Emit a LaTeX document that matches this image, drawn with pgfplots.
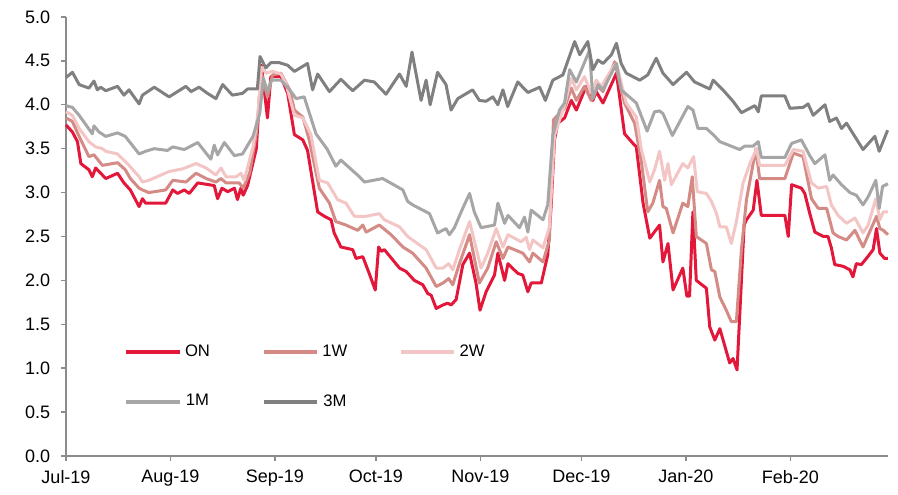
\documentclass[border=0pt]{standalone}
\usepackage{pgfplots}
\pgfplotsset{compat=1.18}
\usepackage{fontspec}
\setmainfont{Liberation Sans}
\definecolor{cON}{HTML}{E3173A}
\definecolor{cOneW}{HTML}{D48A85}
\definecolor{cTwoW}{HTML}{F4C5C5}
\definecolor{cOneM}{HTML}{A6A6A6}
\definecolor{cThreeM}{HTML}{808080}
\definecolor{axisgray}{HTML}{8C8C8C}
% days counted from 1 Jul 2019
\begin{document}
\begin{tikzpicture}
\begin{axis}[
    scale only axis,
    width=493.2pt, height=263.4pt,
    xmin=0, xmax=244, ymin=0, ymax=5,
    axis x line*=bottom, axis y line*=left,
    axis line style={draw=axisgray, line width=0.8pt, -},
    xtick={0,31,62,92,123,153,184,215},
    xticklabels={Jul-19,Aug-19,Sep-19,Oct-19,Nov-19,Dec-19,Jan-20,Feb-20},
    ytick={0,0.5,1,1.5,2,2.5,3,3.5,4,4.5,5},
    tick align=outside, major tick length=3pt,
    tick style={draw=axisgray, line width=0.8pt},
    ticklabel style={font=\fontsize{10.8}{13}\selectfont},
    yticklabel style={xshift=-3pt},
    xticklabel style={yshift=-2pt},
    clip=false,
    legend style={draw=none, fill=none, at={(0.0645,0.268)}, anchor=north west,
        font=\fontsize{10}{12}\selectfont, row sep=17pt,
        /tikz/every even column/.append style={column sep=29pt}},
    legend columns=3,
    legend image code/.code={\draw[#1,line width=2.4pt] (0pt,0pt) -- (32pt,0pt);},
    /pgf/number format/fixed, /pgf/number format/fixed zerofill,
    /pgf/number format/precision=1, /pgf/number format/assume math mode=true,
]
\addplot[cON, line width=1.8pt, line join=round] coordinates {
(0,3.77) (1.9,3.69) (3.4,3.58) (4.4,3.33) (6.8,3.26) (7.8,3.18) (8.8,3.28) (11.8,3.16)
(15.3,3.22) (17.2,3.11) (19.1,3.03) (21.7,2.84) (22.7,2.93) (23.6,2.88) (29.6,2.88)
(31.7,3.03) (33.1,2.99) (35.1,3.03) (36.6,2.99) (39.1,3.11) (44,3.08) (45,2.93)
(46.3,3.05) (48,3.01) (50,3.05) (50.9,2.92) (51.9,3.05) (52.6,2.97) (53.9,3.08)
(56.5,3.50) (58,4.45) (59.8,3.85) (60.8,4.32) (63.8,4.32) (65.8,4.13) (67.8,3.66)
(70.3,3.60) (71.7,3.48) (74.7,2.78) (76.7,2.73) (78.7,2.69) (79.6,2.54) (81.6,2.38)
(85.1,2.35) (86.1,2.25) (88.1,2.27) (90,2.08) (91.8,1.89) (92.8,2.38) (93.6,2.33)
(94.5,2.35) (99,2.14) (101,2.10) (103.4,2.00) (105.9,1.95) (107.4,1.85) (108.4,1.83)
(109.9,1.68) (111.9,1.72) (113.3,1.74) (114.3,1.72) (115.8,1.78) (117.8,2.18)
(119.8,2.31) (121.7,1.97) (122.9,1.66) (124.7,1.87) (127.2,2.06) (128.2,2.31)
(130.2,2.00) (131.2,2.19) (134.1,2.08) (135.6,2.06) (137.1,1.87) (138.1,1.97)
(141.1,1.97) (143,2.29) (144,2.84) (145,3.60) (146,3.79) (148,3.85) (150,4.05)
(151.5,3.94) (154.4,4.21) (156.4,4.05) (157.4,4.15) (159.4,4.02) (163.4,4.36)
(165.8,3.67) (168.3,3.56) (169.3,3.52) (171.3,2.88) (173.3,2.48) (176.2,2.63)
(177.2,2.21) (178.7,2.42) (180.2,1.89) (183.1,2.14) (184.3,1.82) (185.1,1.82)
(186.1,2.78) (187.1,2.00) (190.1,1.91) (191.1,1.47) (192.6,1.32) (194.1,1.45)
(197,1.06) (198,1.11) (199.2,0.98) (201.3,2.63) (202,2.69) (204,2.80) (205.1,3.14)
(206.4,2.74) (213.4,2.74) (214.4,2.50) (215.4,3.09) (218.3,3.05) (219.3,2.99)
(220.8,2.76) (222.3,2.55) (224.8,2.50) (226.2,2.50) (227.2,2.37) (228.2,2.18)
(230.7,2.16) (232.7,2.12) (233.6,2.04) (234.6,2.19) (236.1,2.18) (237.6,2.25)
(239.6,2.35) (240.6,2.59) (241.6,2.31) (243,2.25) (244,2.25)
};
\addlegendentry{ON}
\addplot[cOneW, line width=1.8pt, line join=round] coordinates {
(0,3.85) (1.9,3.81) (3.9,3.64) (6.8,3.41) (8.3,3.43) (10.8,3.31) (15.3,3.34) (17.6,3.26)
(19.1,3.16) (21.7,3.05) (22.7,3.03) (24.6,3.00) (29.6,3.03) (31.7,3.14) (35.6,3.12)
(38.6,3.22) (41.6,3.16) (44.5,3.12) (46,3.16) (47.5,3.11) (51.4,3.11) (52.6,3.05)
(54.5,3.22) (56.5,3.67) (58,4.36) (59.8,4.09) (61.3,4.34) (63.8,4.36) (66.4,4.17)
(67.8,3.94) (70.3,3.86) (72.2,3.60) (75.2,3.05) (78.2,2.88) (80.1,2.67) (83.1,2.63)
(86.6,2.57) (88.1,2.63) (89.1,2.55) (93,2.63) (96.5,2.52) (100,2.38) (102.9,2.31)
(106.9,2.14) (109.9,1.93) (111.9,1.97) (113.6,2.02) (114.8,1.95) (116.8,2.19)
(119.8,2.52) (122.7,1.97) (125.2,2.14) (127.7,2.44) (129.7,2.25) (131.2,2.38)
(135.6,2.31) (137.6,2.21) (138.6,2.31) (141.6,2.21) (143.5,2.46) (144.7,3.83)
(148,3.96) (150,4.19) (151.5,4.05) (153.9,4.21) (155.9,4.05) (157.9,4.21) (159.4,4.15)
(162.9,4.49) (165.8,4.02) (168.8,3.79) (170.8,3.35) (172.7,2.78) (174.2,2.88)
(176.2,3.14) (177.2,2.84) (178.2,2.82) (180.2,2.54) (183.1,2.88) (184.6,2.84)
(185.9,3.18) (187.1,2.50) (190.1,2.42) (191.6,2.12) (192.6,2.10) (194.1,1.81)
(196,1.66) (197.5,1.53) (199,1.53) (200.5,2.35) (202,2.92) (204.8,3.50) (205.9,3.16)
(213.4,3.16) (215.9,3.45) (218.8,3.41) (221.3,2.93) (223.3,2.82) (225.8,2.82)
(227.7,2.54) (229.2,2.50) (231.7,2.46) (234.2,2.57) (236.6,2.38) (240.6,2.73)
(241.6,2.59) (242.6,2.57) (244,2.52)
};
\addlegendentry{1W}
\addplot[cTwoW, line width=1.8pt, line join=round] coordinates {
(0,3.92) (1.9,3.88) (3.9,3.73) (6.8,3.58) (8.8,3.52) (10.8,3.50) (11.8,3.47) (15.3,3.44)
(18.7,3.31) (21.7,3.18) (22.7,3.12) (24.6,3.14) (30.6,3.24) (34.6,3.27) (38.6,3.33)
(41.6,3.28) (44.5,3.20) (46,3.28) (47.5,3.18) (50.5,3.18) (51.9,3.22) (52.9,3.14)
(55.5,3.52) (57,3.90) (58,4.43) (59.4,4.36) (61.3,4.38) (63.8,4.35) (65.3,4.24)
(67.8,3.88) (70.3,3.85) (72.7,3.66) (75.2,3.14) (77.7,3.11) (80.6,2.92) (83.1,2.88)
(85.6,2.73) (89.1,2.73) (93,2.76) (94.5,2.69) (99,2.61) (101.4,2.50) (106.9,2.35)
(109.9,2.14) (111.9,2.14) (113.6,2.19) (114.8,2.12) (116.8,2.35) (119.8,2.67)
(123.2,2.14) (125.2,2.31) (127.7,2.59) (129.7,2.38) (131.2,2.52) (135.1,2.44)
(136.6,2.49) (137.6,2.35) (138.6,2.46) (141.6,2.37) (143.5,2.61) (145,3.65) (148,4.00)
(150,4.30) (151.5,4.17) (153.9,4.32) (155.9,4.13) (157.4,4.28) (158.9,4.21)
(162.4,4.43) (163.4,4.47) (166.3,4.02) (169.3,3.86) (170.8,3.49) (173.3,3.12)
(174.7,3.26) (176.2,3.47) (177.7,3.14) (178.7,3.33) (179.7,3.09) (183.1,3.33)
(184.6,3.28) (186.3,3.41) (187.4,3.01) (190.1,2.99) (191.6,2.90) (193.1,2.76)
(194.1,2.61) (196,2.61) (197.5,2.42) (199,2.67) (201,3.11) (203,3.33) (205,3.50)
(205.9,3.31) (213.4,3.31) (215.9,3.49) (218.8,3.47) (221.3,3.11) (223.3,3.05)
(225.8,3.07) (227.2,2.86) (229.2,2.74) (231.7,2.65) (234.2,2.71) (236.6,2.54)
(238.1,2.63) (240.4,2.93) (241.6,2.69) (242.6,2.78) (244,2.78)
};
\addlegendentry{2W}
\addplot[cOneM, line width=1.8pt, line join=round] coordinates {
(0,3.99) (1.9,3.97) (3.9,3.88) (7.8,3.67) (8.3,3.76) (9.8,3.69) (11.8,3.64) (15.3,3.68)
(17.6,3.64) (21.7,3.44) (23.6,3.47) (26.2,3.50) (30.1,3.48) (31.7,3.52) (35.1,3.49)
(39.1,3.57) (43,3.38) (44,3.54) (45,3.43) (47,3.57) (50,3.42) (52.4,3.44) (55.5,3.64)
(57.5,3.90) (58.6,4.30) (59.8,4.15) (61,4.28) (63.8,4.28) (66.4,4.17) (68.3,4.07)
(70.7,4.09) (74.2,3.67) (77.6,3.49) (80.1,3.30) (81.6,3.37) (87.1,3.18) (88.6,3.12)
(94,3.16) (100,3.03) (101.4,2.90) (102.9,2.86) (107.9,2.76) (110.3,2.54) (112.8,2.59)
(113.8,2.52) (115.3,2.60) (117.3,2.78) (119.8,2.99) (121.2,2.78) (123.2,2.60)
(127.2,2.63) (128.2,2.88) (130.2,2.65) (131.2,2.74) (134.6,2.60) (136.1,2.72)
(137.1,2.55) (138.1,2.80) (141.6,2.69) (143,2.86) (144.5,3.65) (146.5,3.94) (148,4.02)
(149.5,4.40) (151.5,4.26) (155.4,4.62) (156.4,4.07) (157.9,4.23) (159.4,4.17)
(161.4,4.32) (163.4,4.47) (164.8,4.17) (169.3,4.02) (172.5,3.70) (174.7,3.92)
(176.2,3.93) (177.2,3.90) (180,3.65) (184.6,3.98) (186.1,3.94) (187.6,3.73)
(190.1,3.73) (192.1,3.66) (194.1,3.58) (200,3.49) (201.5,3.53) (204,3.53) (205.5,3.58)
(206.4,3.40) (213.4,3.40) (215.4,3.56) (218.3,3.60) (220.8,3.42) (222.3,3.33)
(225.3,3.43) (226.7,3.14) (227.7,3.20) (230.2,3.09) (232.7,3.00) (234.6,2.97)
(236.6,2.86) (238.1,2.95) (240.4,3.14) (241.4,2.82) (242.4,3.07) (244,3.10)
};
\addlegendentry{1M}
\addplot[cThreeM, line width=1.8pt, line join=round] coordinates {
(0,4.31) (1.9,4.37) (3.9,4.23) (6.8,4.19) (8.3,4.27) (9.3,4.17) (10.3,4.20) (11.8,4.16)
(15.3,4.21) (17.2,4.11) (18.7,4.17) (21.7,4.01) (22.7,4.11) (26.2,4.20) (30.6,4.09)
(35.6,4.21) (37.1,4.15) (39.5,4.20) (42,4.13) (44.5,4.07) (46.5,4.23) (49.4,4.11)
(52.4,4.13) (53.9,4.18) (56.8,4.18) (57.6,4.55) (59.3,4.42) (60.8,4.48) (63.3,4.48)
(65.8,4.45) (67.8,4.38) (71.7,4.47) (73.2,4.17) (74.7,4.35) (78.2,4.15) (81.6,4.29)
(85.1,4.16) (88.6,4.28) (91.5,4.26) (95,4.12) (99,4.35) (101,4.21) (102.7,4.60)
(105.4,4.05) (106.9,4.28) (108.1,4.00) (110.3,4.37) (112.8,4.23) (114.3,3.94)
(116.3,4.07) (120.7,4.17) (122.7,4.05) (124.7,4.04) (126.7,4.09) (128.2,4.00)
(129.7,4.17) (131.1,3.98) (134.1,4.26) (137.1,4.14) (140.6,4.20) (142.3,4.05)
(144.5,4.28) (147.5,4.34) (151,4.72) (152.5,4.57) (154.9,4.72) (156.4,4.40)
(157.9,4.51) (159.4,4.47) (161.9,4.57) (163.4,4.70) (164.8,4.47) (166.3,4.36)
(170.3,4.28) (172.7,4.34) (175.2,4.53) (177.2,4.36) (180.2,4.23) (184.2,4.37)
(186.6,4.26) (191.1,4.18) (192.1,4.28) (195,4.17) (198,4.04) (200.5,3.91) (204.5,3.99)
(205.5,3.92) (206.4,4.10) (213.4,4.10) (214.9,3.96) (218.8,3.97) (220.3,4.01)
(221.8,3.88) (225.3,4.00) (226.7,3.81) (228.7,3.85) (230.2,3.73) (231.7,3.79)
(236.6,3.49) (240.1,3.64) (241.4,3.47) (243.9,3.71)
};
\addlegendentry{3M}
\path (rel axis cs:-0.0803,-0.0888) rectangle (rel axis cs:1.0122,1.0387);
\end{axis}
\end{tikzpicture}
\end{document}
